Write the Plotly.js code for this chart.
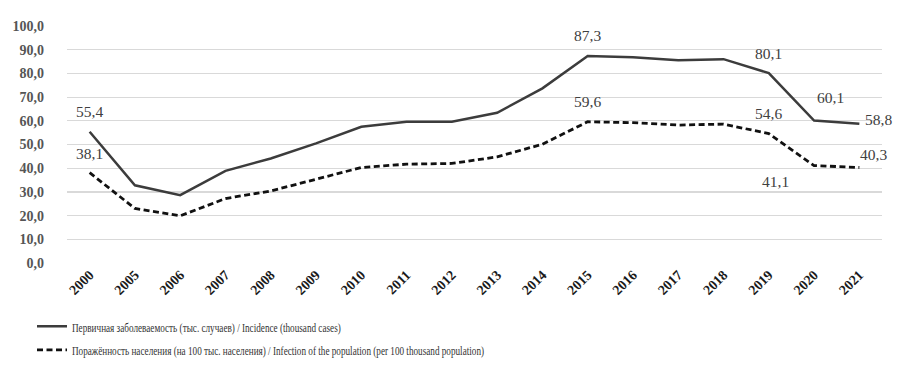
<!DOCTYPE html>
<html>
<head>
<meta charset="utf-8">
<script src="https://cdn.plot.ly/plotly-3.0.1.min.js"></script>
<style>
html,body{margin:0;padding:0;background:#fff;}
#chart{width:913px;height:370px;}
#chart .legendtext{transform-box:fill-box;transform-origin:0 50%;transform:scaleX(0.68);}
</style>
</head>
<body>
<div id="chart"></div>
<script>
var years = ["2000","2005","2006","2007","2008","2009","2010","2011","2012","2013","2014","2015","2016","2017","2018","2019","2020","2021"];
var incidence = [55.4,32.8,28.6,38.9,44.1,50.5,57.5,59.6,59.6,63.4,73.7,87.3,86.8,85.6,86.0,80.1,60.1,58.8];
var infection = [38.1,23.0,19.9,27.2,30.4,35.2,40.3,41.7,42.0,44.8,50.1,59.6,59.2,58.2,58.6,54.6,41.1,40.3];
var incidenceName = "Первичная заболеваемость (тыс. случаев) / Incidence (thousand cases)";
var infectionName = "Поражённость населения (на 100 тыс. населения) / Infection of the population (per 100 thousand population)";
var yTicks = [0,10,20,30,40,50,60,70,80,90,100];

// which points carry a value label, with the label's offset from its point
var incLabels = [["2000",0,20],["2015",0,21],["2019",0,20],["2020",16,23],["2021",19,4]];
var infLabels = [["2000",0,19],["2015",0,20],["2019",0,20],["2020",-39,-16],["2021",14,13]];

var serif = "Liberation Serif";
var annotations = [];
function addLabels(list, vals){
  list.forEach(function(l){
    var i = years.indexOf(l[0]);
    annotations.push({
      x: i, y: vals[i], xref: "x", yref: "y",
      text: vals[i].toFixed(1).replace(".", ","),
      showarrow: false, xshift: l[1], yshift: l[2],
      font: {family: serif, size: 15.5, color: "#404040"}
    });
  });
}
addLabels(incLabels, incidence);
addLabels(infLabels, infection);

var data = [
  {x: years, y: incidence, name: incidenceName, type: "scatter", mode: "lines", legendgroup: "a",
   line: {color: "#3c3c3c", width: 2.5}},
  {x: years, y: infection, name: infectionName, type: "scatter", mode: "lines", legendgroup: "b",
   line: {color: "#111111", width: 2.8, dash: "6px,3.5px"}}
];

var layout = {
  width: 913, height: 370,
  margin: {l: 66.5, r: 30.5, t: 26, b: 107.3, autoexpand: false},
  paper_bgcolor: "#fff", plot_bgcolor: "#fff",
  font: {family: serif},
  separators: ", ",
  showlegend: true,
  legend: {
    orientation: "v", xref: "container", yref: "container",
    x: 32/913, xanchor: "left", y: 1 - 311/370, yanchor: "top",
    font: {family: serif, size: 13.5, color: "#333"},
    tracegroupgap: 3, itemwidth: 30, bgcolor: "rgba(0,0,0,0)"
  },
  xaxis: {
    type: "category", range: [-0.5, years.length - 0.5],
    showgrid: false, zeroline: false, showline: false,
    tickangle: -45, ticks: "", automargin: false,
    tickfont: {family: serif, size: 14, color: "#1a1a1a", weight: "bold"}
  },
  yaxis: {
    range: [0, 100], tickvals: yTicks, tickformat: ".1f",
    showgrid: true, gridcolor: "#d9d9d9", gridwidth: 1.2,
    zeroline: false, showline: false, ticks: "", automargin: false,
    ticklabelstandoff: 22,
    tickfont: {family: serif, size: 14, color: "#555555", weight: "bold"}
  },
  annotations: annotations
};
Plotly.newPlot("chart", data, layout, {displayModeBar: false, staticPlot: true});
</script>
</body>
</html>
